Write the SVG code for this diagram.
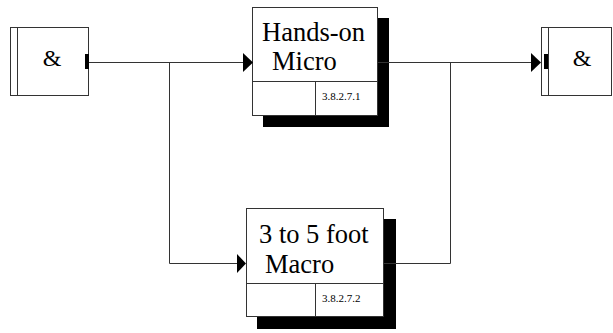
<svg xmlns="http://www.w3.org/2000/svg" width="613" height="333" viewBox="0 0 613 333">
<rect width="613" height="333" fill="#fff"/>
<g id="junction-left" fill="#fff" stroke="#333" stroke-width="1">
<rect x="10.5" y="27.5" width="78" height="68"/>
<line x1="17.5" y1="27.5" x2="17.5" y2="95.5"/>
<rect x="85" y="54" width="4" height="15" fill="#000" stroke="none"/>
</g>
<g id="node-micro" fill="#fff" stroke="#333" stroke-width="1">
<rect x="263" y="18" width="126" height="109" fill="#000" stroke="none"/>
<rect x="252.5" y="7.5" width="125" height="108"/>
<line x1="252.5" y1="81.5" x2="377.5" y2="81.5"/>
<line x1="315.5" y1="81.5" x2="315.5" y2="115.5"/>
</g>
<g id="node-macro" fill="#fff" stroke="#333" stroke-width="1">
<rect x="257" y="219" width="139" height="110" fill="#000" stroke="none"/>
<rect x="246.5" y="208.5" width="137" height="108"/>
<line x1="246.5" y1="283.5" x2="383.5" y2="283.5"/>
<line x1="315.5" y1="283.5" x2="315.5" y2="316.5"/>
</g>
<g id="junction-right" fill="#fff" stroke="#333" stroke-width="1">
<rect x="541.5" y="27.5" width="70" height="68"/>
<line x1="548.5" y1="27.5" x2="548.5" y2="95.5"/>
<rect x="544" y="54" width="4" height="15" fill="#000" stroke="none"/>
</g>
<g id="connectors" fill="none" stroke="#333" stroke-width="1">
<polyline points="89,62.5 244,62.5"/>
<polyline points="169.5,62.5 169.5,263.5 238,263.5"/>
<polyline points="378,62.5 532,62.5"/>
<polyline points="384,263.5 450.5,263.5 450.5,62.5"/>
<polygon points="243,53 253,62.5 243,72" fill="#000" stroke="none"/>
<polygon points="237,254 246,263.5 237,273" fill="#000" stroke="none"/>
<polygon points="531,53 541,62.5 531,72" fill="#000" stroke="none"/>
</g>
<text x="52" y="66" text-anchor="middle" font-family="Liberation Serif" font-size="24">&amp;</text>
<text x="262" y="41" font-family="Liberation Serif" font-size="26.5">Hands-on</text>
<text x="272" y="70" font-family="Liberation Serif" font-size="26.5">Micro</text>
<text x="322" y="100" font-family="Liberation Serif" font-size="11">3.8.2.7.1</text>
<text x="259" y="243" font-family="Liberation Serif" font-size="26.5">3 to 5 foot</text>
<text x="265" y="273" font-family="Liberation Serif" font-size="26.5">Macro</text>
<text x="322" y="302" font-family="Liberation Serif" font-size="11">3.8.2.7.2</text>
<text x="582" y="66" text-anchor="middle" font-family="Liberation Serif" font-size="24">&amp;</text>
</svg>
